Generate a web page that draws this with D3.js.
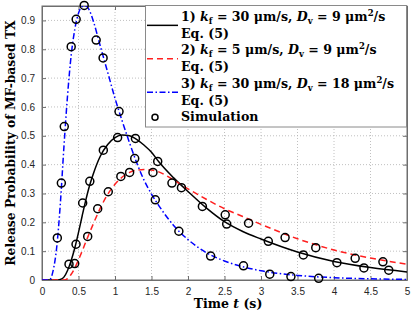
<!DOCTYPE html>
<html>
<head>
<meta charset="utf-8">
<script src="https://cdn.jsdelivr.net/npm/d3@7"></script>
<style>
  body { margin: 0; background: #fff; }
  svg { display: block; }
</style>
</head>
<body>
<div id="chart"></div>
<script>
// time grid for the Eq. (5) curves
var tCurve = [0, 0.1, 0.15, 0.2, 0.25, 0.3, 0.35, 0.4, 0.45, 0.5, 0.55, 0.6, 0.65, 0.7, 0.8, 0.9, 1.0,
  1.1, 1.2, 1.3, 1.4, 1.5, 1.6, 1.8, 2.0, 2.25, 2.5, 2.75, 3.0, 3.5, 4.0, 4.5, 5.0];
var curve1 = [0, 0, 0, 0, 0.002, 0.01, 0.033, 0.068, 0.112, 0.165, 0.222, 0.277, 0.326, 0.366, 0.43, 0.47, 0.494,
  0.503, 0.5, 0.487, 0.467, 0.443, 0.41, 0.355, 0.307, 0.25, 0.202, 0.168, 0.142, 0.097, 0.064, 0.043, 0.028];
var curve2 = [0, 0, 0, 0, 0, 0, 0.005, 0.02, 0.042, 0.07, 0.1, 0.132, 0.163, 0.193, 0.25, 0.297, 0.332,
  0.357, 0.373, 0.381, 0.383, 0.381, 0.375, 0.347, 0.316, 0.28, 0.247, 0.22, 0.193, 0.143, 0.104, 0.076, 0.055];
var curve3 = [0, 0, 0.03, 0.11, 0.26, 0.46, 0.64, 0.78, 0.87, 0.925, 0.948, 0.95, 0.935, 0.9, 0.81, 0.72, 0.63,
  0.55, 0.475, 0.405, 0.345, 0.298, 0.258, 0.19, 0.14, 0.095, 0.066, 0.046, 0.032, 0.016, 0.008, 0.004, 0.002];

// simulation markers
var sim1T = [0.37, 0.466, 0.557, 0.655, 0.84, 1.036, 1.28, 1.585, 1.91, 2.197, 2.53, 3.1, 3.58, 4.04, 4.41, 4.75];
var sim1P = [0.055, 0.124, 0.267, 0.342, 0.45, 0.494, 0.491, 0.411, 0.32, 0.255, 0.194, 0.134, 0.087, 0.06, 0.042, 0.034];
var sim2T = [0.448, 0.626, 0.763, 0.908, 1.08, 1.2, 1.52, 1.78, 2.51, 2.83, 3.33, 3.75, 4.29, 4.67];
var sim2P = [0.057, 0.151, 0.247, 0.306, 0.359, 0.373, 0.373, 0.336, 0.226, 0.197, 0.147, 0.112, 0.075, 0.063];
var sim3T = [0.21, 0.265, 0.305, 0.4, 0.468, 0.578, 0.742, 0.837, 1.055, 1.27, 1.552, 1.875, 2.31, 2.76, 3.12, 3.41, 3.79];
var sim3P = [0.146, 0.336, 0.532, 0.809, 0.904, 0.952, 0.832, 0.77, 0.584, 0.421, 0.278, 0.169, 0.083, 0.049, 0.02, 0.012, 0.006];

var xTicks = [0, 0.5, 1, 1.5, 2, 2.5, 3, 3.5, 4, 4.5, 5];
var yTicks = [0, 0.1, 0.2, 0.3, 0.4, 0.5, 0.6, 0.7, 0.8, 0.9];

var W = 415, H = 312;
var margin = { top: 6, right: 8, bottom: 32, left: 42 };
var width = W - margin.left - margin.right,
    height = H - margin.top - margin.bottom;

var svg = d3.select("#chart").append("svg")
    .attr("width", W).attr("height", H);
var g = svg.append("g")
    .attr("transform", "translate(" + margin.left + "," + margin.top + ")");

var x = d3.scaleLinear().domain([0, 5]).range([0, width]);
var y = d3.scaleLinear().domain([0, 0.95]).range([height, 0]);

g.append("defs").append("clipPath").attr("id", "clip")
    .append("rect").attr("width", width).attr("height", height);

// grid
g.append("g").selectAll("line").data(xTicks.slice(1, -1)).enter().append("line")
    .attr("x1", d => x(d)).attr("x2", d => x(d)).attr("y1", 0).attr("y2", height)
    .attr("stroke", "#b0b0b0").attr("stroke-width", 0.8).attr("stroke-dasharray", "1,2");
g.append("g").selectAll("line").data(yTicks.slice(1)).enter().append("line")
    .attr("y1", d => y(d)).attr("y2", d => y(d)).attr("x1", 0).attr("x2", width)
    .attr("stroke", "#b0b0b0").attr("stroke-width", 0.8).attr("stroke-dasharray", "1,2");

// axes
var axisFont = "'Liberation Sans', Arial, sans-serif";
g.append("g").attr("transform", "translate(0," + height + ")")
    .call(d3.axisBottom(x).tickValues(xTicks).tickSizeInner(-4).tickSizeOuter(0).tickPadding(8)
        .tickFormat(d3.format("")));
g.append("g")
    .call(d3.axisLeft(y).tickValues(yTicks).tickSizeInner(-4).tickSizeOuter(0).tickPadding(7)
        .tickFormat(d3.format("")));
g.append("g").call(d3.axisTop(x).tickValues(xTicks).tickSizeInner(-4).tickSizeOuter(0).tickFormat(""));
g.append("g").attr("transform", "translate(" + width + ",0)")
    .call(d3.axisRight(y).tickValues(yTicks).tickSizeInner(-4).tickSizeOuter(0).tickFormat(""));
g.selectAll(".domain").attr("stroke", "#6e6e6e");
g.selectAll(".tick line").attr("stroke", "#6e6e6e");
g.selectAll(".tick text").style("font-family", axisFont).style("font-size", "10px").attr("fill", "#262626");
g.append("rect").attr("width", width).attr("height", height)
    .attr("fill", "none").attr("stroke", "#6e6e6e").attr("stroke-width", 1);

// curves
var line = d3.line().x(d => x(d[0])).y(d => y(d[1])).curve(d3.curveMonotoneX);
var series = [
  { v: curve1, color: "#000000", dash: null },
  { v: curve2, color: "#ff2020", dash: "6,4" },
  { v: curve3, color: "#0000ff", dash: "6,2.5,1.5,2.5" }
];
var plot = g.append("g").attr("clip-path", "url(#clip)");
series.forEach(function (s) {
  plot.append("path")
      .datum(tCurve.map((t, i) => [t, s.v[i]]))
      .attr("d", line)
      .attr("fill", "none").attr("stroke", s.color).attr("stroke-width", 1.5)
      .attr("stroke-dasharray", s.dash);
});

// markers
[[sim1T, sim1P], [sim2T, sim2P], [sim3T, sim3P]].forEach(function (s) {
  g.append("g").selectAll("circle").data(s[0]).enter().append("circle")
      .attr("cx", d => x(d)).attr("cy", (d, i) => y(s[1][i]))
      .attr("r", 4).attr("fill", "none").attr("stroke", "#000").attr("stroke-width", 1.5);
});

// legend
var serif = "'DejaVu Serif', serif";
var fs = "12.6px", fsSub = "8.5px";
var lg = svg.append("g");
lg.append("rect").attr("x", 145.5).attr("y", 5.5).attr("width", 261).attr("height", 121.5)
    .attr("fill", "#fff").attr("stroke", "#8a8a8a").attr("stroke-width", 1);

var legendRows = [
  { kf: "30", dv: "9", n: "1)" },
  { kf: "5", dv: "9", n: "2)" },
  { kf: "30", dv: "18", n: "3)" }
];
var rowH = 16.7, row0 = 21;
legendRows.forEach(function (r, i) {
  var yy = row0 + i * 2 * rowH;
  var t = lg.append("text").attr("x", 181).attr("y", yy)
      .style("font-family", serif).style("font-size", fs).style("font-weight", "bold").attr("fill", "#000");
  t.append("tspan").text(r.n + " ");
  t.append("tspan").style("font-style", "italic").text("k");
  t.append("tspan").attr("dy", 3).style("font-size", fsSub).text("f");
  t.append("tspan").attr("dy", -3).text(" = " + r.kf + " \u03bcm/s, ");
  t.append("tspan").style("font-style", "italic").text("D");
  t.append("tspan").attr("dy", 3).style("font-size", fsSub).text("v");
  t.append("tspan").attr("dy", -3).text(" = " + r.dv + " \u03bcm");
  t.append("tspan").attr("dy", -5).style("font-size", fsSub).text("2");
  t.append("tspan").attr("dy", 5).text("/s");
  lg.append("text").attr("x", 181).attr("y", yy + rowH)
      .style("font-family", serif).style("font-size", fs).style("font-weight", "bold").text("Eq.  (5)");
  var ly = yy + rowH / 2 - 4;
  lg.append("line").attr("x1", 147).attr("x2", 178).attr("y1", ly).attr("y2", ly)
      .attr("stroke", series[i].color).attr("stroke-width", 1.5).attr("stroke-dasharray", series[i].dash);
});
lg.append("circle").attr("cx", 155).attr("cy", row0 + 6 * rowH - 4).attr("r", 3)
    .attr("fill", "none").attr("stroke", "#000").attr("stroke-width", 1.5);
lg.append("text").attr("x", 181).attr("y", row0 + 6 * rowH)
    .style("font-family", serif).style("font-size", fs).style("font-weight", "bold").text("Simulation");

// axis labels
svg.append("text")
    .attr("transform", "translate(15," + (margin.top + height / 2) + ") rotate(-90)")
    .attr("text-anchor", "middle")
    .style("font-family", serif).style("font-size", "12.3px").style("font-weight", "bold")
    .text("Release Probability of MF-based TX");
var xl = svg.append("text").attr("x", 228).attr("y", 308).attr("text-anchor", "middle")
    .style("font-family", serif).style("font-size", "12.5px").style("font-weight", "bold");
xl.append("tspan").text("Time ");
xl.append("tspan").style("font-style", "italic").text("t");
xl.append("tspan").text(" (s)");
</script>
</body>
</html>
